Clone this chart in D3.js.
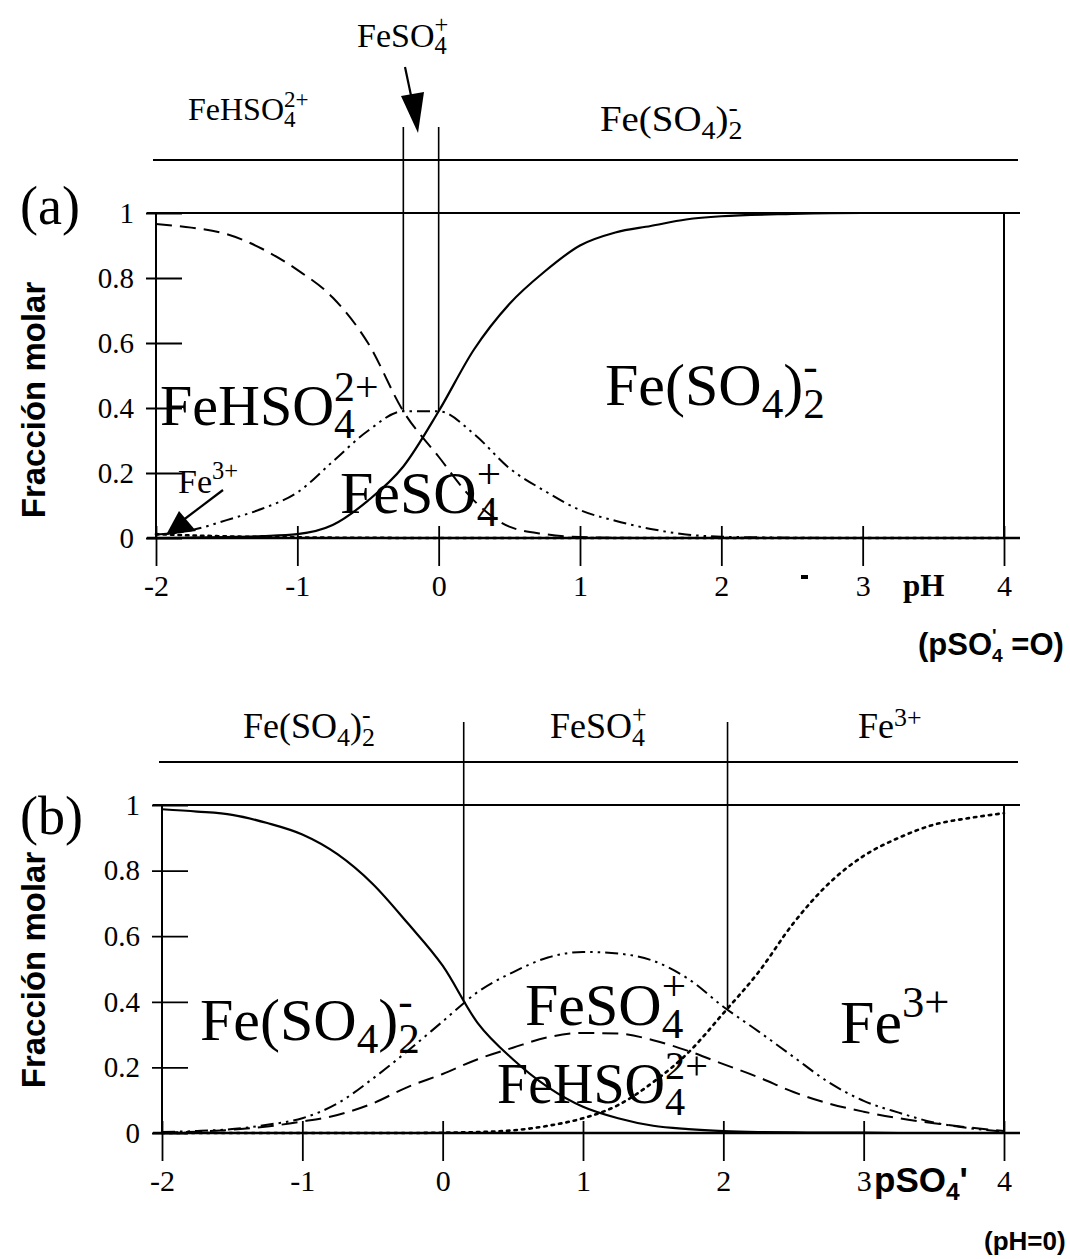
<!DOCTYPE html>
<html><head><meta charset="utf-8">
<script src="https://cdn.jsdelivr.net/npm/d3@7"></script>
<style>body{margin:0;background:#fff}</style>
</head><body><svg id="c" width="1070" height="1259"></svg>
<script>
// ---------- data: panel (a), x = pH (pSO4' = 0) ----------
const pHValues   = [-2,-1.75,-1.5,-1.25,-1,-0.75,-0.5,-0.25,0,0.25,0.5,0.75,1,1.25,1.5,1.75,2,2.5,3,3.5,4];
const aFe3       = [0.012,0.008,0.005,0.003,0.002,0.001,0.001,0,0,0,0,0,0,0,0,0,0,0,0,0,0];
const aFeHSO4    = [0.966,0.955,0.935,0.89,0.825,0.74,0.60,0.39,0.25,0.115,0.035,0.012,0.003,0.001,0,0,0,0,0,0,0];
const aFeSO4     = [0.01,0.024,0.055,0.09,0.14,0.235,0.33,0.39,0.39,0.32,0.215,0.145,0.086,0.053,0.028,0.011,0.004,0.001,0,0,0];
const aFeSO42    = [0,0.001,0.003,0.006,0.012,0.04,0.115,0.22,0.39,0.58,0.72,0.82,0.90,0.94,0.96,0.98,0.99,0.997,1,1,1];

// ---------- data: panel (b), x = pSO4' (pH = 0) ----------
const pSO4Values = [-2,-1.75,-1.5,-1.25,-1,-0.75,-0.5,-0.25,0,0.25,0.5,0.75,1,1.25,1.5,1.75,2,2.25,2.5,2.75,3,3.25,3.5,3.75,4];
const bFeSO42    = [0.987,0.98,0.97,0.945,0.91,0.85,0.76,0.64,0.51,0.335,0.225,0.14,0.08,0.045,0.022,0.012,0.006,0.003,0.002,0.001,0.001,0,0,0,0];
const bFeSO4     = [0.003,0.006,0.012,0.025,0.045,0.09,0.165,0.25,0.34,0.43,0.49,0.535,0.552,0.547,0.525,0.47,0.385,0.31,0.232,0.155,0.098,0.062,0.032,0.015,0.004];
const bFeHSO4    = [0.002,0.004,0.01,0.02,0.035,0.055,0.09,0.14,0.18,0.225,0.26,0.292,0.305,0.303,0.283,0.25,0.21,0.17,0.125,0.09,0.065,0.045,0.03,0.017,0.006];
const bFe3       = [0,0,0,0,0,0,0,0,0.001,0.003,0.008,0.022,0.045,0.085,0.155,0.245,0.365,0.49,0.64,0.76,0.845,0.90,0.94,0.96,0.975];

// ---------- ticks ----------
const xTicks = [-2,-1,0,1,2,3,4];
const xTickLabels = ["-2","-1","0","1","2","3","4"];
const yTicks = [0,0.2,0.4,0.6,0.8,1];
const yTickLabels = ["0","0.2","0.4","0.6","0.8","1"];

// predominance boundaries
const aBounds = [-0.25, 0];
const bBounds = [0.15, 2.03];

const svg = d3.select('#c');
const serif = "'Liberation Serif','Times New Roman',serif";
const sans = "'Liberation Sans',Arial,sans-serif";

const styles = {
  solid:  {dash:null, w:2.2},
  dashed: {dash:"16,8", w:2},
  dashdot:{dash:"13,5,2.5,5,2.5,5", w:2},
  dotted: {dash:"2.5,5", w:2.6}
};

function measure(txt, size, fam, wt) {
  const t = svg.append('text').attr('font-family', fam).attr('font-weight', wt).attr('font-size', size).text(txt);
  const w = t.node().getComputedTextLength();
  t.remove();
  return w;
}

// formula helper (one text element): parts = [{t:"FeSO"},{sub:"4",sup:"+"}]
function formula(g, x, y, parts, size, opts={}) {
  const fam = opts.family || serif, wt = opts.weight || 'normal';
  const sx = opts.sx || 1;
  const txt = g.append('text').attr('font-family', fam).attr('font-weight', wt).attr('font-size', size).attr('fill','#000');
  let cur = 0, total = 0, pendingDx = 0;
  const subY = size*0.22;
  parts.forEach(p => {
    if (p.t !== undefined) {
      txt.append('tspan').attr('dx', pendingDx).attr('dy', -cur).text(p.t);
      cur = 0; pendingDx = 0;
      total += measure(p.t, size, fam, wt);
    } else {
      const ss = size * (p.scale || 0.72);
      let subW = 0, supW = 0;
      if (p.sub) {
        subW = measure(p.sub, ss, fam, wt);
        txt.append('tspan').attr('dx', pendingDx).attr('dy', subY - cur).attr('font-size', ss).text(p.sub);
        cur = subY; pendingDx = 0;
      }
      if (p.sup) {
        supW = measure(p.sup, ss, fam, wt);
        const sy = -size*(p.supy || 0.42);
        txt.append('tspan').attr('dx', pendingDx - subW + (p.supdx||0)).attr('dy', sy - cur).attr('font-size', ss).text(p.sup);
        cur = sy; pendingDx = 0;
        const used = supW + (p.supdx||0);
        if (subW > used) pendingDx = subW - used;
        total += Math.max(subW, used);
      } else {
        total += subW;
      }
    }
  });
  const w = total * sx;
  const sh = opts.anchor === 'middle' ? -w/2 : opts.anchor === 'end' ? -w : 0;
  txt.attr('transform', `translate(${x+sh},${y}) scale(${sx},1)`);
  return txt;
}

const F = {
  FeHSO4: [{t:"FeHSO"},{sub:"4",sup:"2+"}],
  FeSO4:  [{t:"FeSO"},{sub:"4",sup:"+"}],
  FeSO42: [{t:"Fe(SO"},{sub:"4"},{t:")"},{sub:"2",sup:"-"}],
  Fe3:    [{t:"Fe"},{sup:"3+"}]
};

function line(g, x1, y1, x2, y2, w) {
  g.append('line').attr('x1',x1).attr('y1',y1).attr('x2',x2).attr('y2',y2)
   .attr('stroke','#000').attr('stroke-width',w||2);
}

function panel(cfg) {
  const xs = d3.scaleLinear().domain([-2,4]).range([cfg.x0, cfg.x1]);
  const ys = d3.scaleLinear().domain([0,1]).range([cfg.yBot, cfg.yTop]);
  const g = svg.append('g');

  // x axis
  const xa = d3.axisBottom(xs).tickValues(xTicks).tickSize(28).tickFormat((d,i)=>xTickLabels[i]);
  const gx = g.append('g').attr('transform', `translate(0,${ys(0)})`).call(xa);
  gx.select('.domain').remove();
  gx.selectAll('.tick line').attr('y1', -12).attr('stroke-width', 1.8);
  gx.selectAll('.tick text').attr('y', cfg.xLabY).attr('dy', 0)
    .attr('font-family', serif).attr('font-size', 30).attr('fill','#000');

  // y axis
  const ya = d3.axisLeft(ys).tickValues(yTicks).tickSize(10).tickPadding(12).tickFormat((d,i)=>yTickLabels[i]);
  const gy = g.append('g').attr('transform', `translate(${xs(-2)},0)`).call(ya);
  gy.select('.domain').remove();
  gy.selectAll('.tick line').attr('x1', 26).attr('stroke-width', 1.8);
  gy.selectAll('.tick text').attr('font-family', serif).attr('font-size', 29).attr('fill','#000');

  // frame
  line(g, xs(-2)-9, ys(0), xs(4)+16, ys(0), 2.4);
  line(g, xs(-2), ys(0), xs(-2), ys(1), 2);
  line(g, xs(-2)-9, ys(1), xs(4)+16, ys(1), 2.2);
  line(g, xs(4), ys(1), xs(4), ys(0), 2);
  // predominance band
  line(g, xs(-2)-3, cfg.bandY, xs(4)+14, cfg.bandY, 2.2);
  cfg.bounds.forEach((b,i) => line(g, xs(b), cfg.bTop, xs(b), ys(cfg.bVal[i]), 1.6));

  // curves
  const gen = d3.line().x((d,i)=>xs(cfg.xv[i])).y(d=>ys(d)).curve(d3.curveMonotoneX);
  cfg.series.forEach(s => {
    const st = styles[s.style];
    g.append('path').attr('d', gen(s.values)).attr('fill','none').attr('stroke','#000')
     .attr('stroke-width', st.w).attr('stroke-dasharray', st.dash).attr('stroke-linecap', s.style==='dotted'?'round':'butt');
  });

  // axis title y
  g.append('text').attr('transform', `translate(${cfg.yTitleX},${cfg.yTitleY}) rotate(-90)`)
   .attr('text-anchor','middle').attr('font-family', sans).attr('font-weight','bold')
   .attr('font-size', 33).text('Fracción molar');
  // panel letter
  g.append('text').attr('x', 20).attr('y', cfg.letterY).attr('font-family', serif).attr('font-size', 54).text(cfg.letter);
  return {g, xs, ys};
}

// ----- panel (a)
const A = panel({
  x0:156, x1:1004, yTop:213, yBot:538, xLabY:58, bandY:160, bTop:127,
  bounds:aBounds, bVal:[0.39,0.39], xv:pHValues,
  series:[
    {values:aFe3, style:'dotted'},
    {values:aFeHSO4, style:'dashed'},
    {values:aFeSO4, style:'dashdot'},
    {values:aFeSO42, style:'solid'}
  ],
  yTitleX:45, yTitleY:400, letter:'(a)', letterY:224
});
// top band labels
formula(A.g, 188, 120, F.FeHSO4, 32);
formula(A.g, 357, 47, F.FeSO4, 34);
formula(A.g, 600, 131, F.FeSO42, 36, {sx:1.08});
// arrow to FeSO4 band
line(A.g, 405, 67, 413, 105, 2.2);
A.g.append('path').attr('d','M401,96 L424,92 L418,133 Z').attr('fill','#000');
// inner labels
formula(A.g, 160, 425, F.FeHSO4, 58);
formula(A.g, 340, 513, F.FeSO4, 60);
formula(A.g, 605, 405, F.FeSO42, 60);
formula(A.g, 178, 493, F.Fe3, 34);
// Fe3+ arrow
line(A.g, 223, 490, 182, 521, 2.2);
A.g.append('path').attr('d','M166,535 L179,511 L196,531 Z').attr('fill','#000');
// small mark near tick 3 (as in reference)
A.g.append('rect').attr('x', 801).attr('y', 575).attr('width', 7).attr('height', 4).attr('fill','#000');
// x title
A.g.append('text').attr('x', 903).attr('y', 596).attr('font-family', serif).attr('font-weight','bold').attr('font-size', 31).text('pH');
formula(A.g, 918, 655, [{t:"(pSO"},{sub:"4",sup:"'",scale:0.62},{t:" =O)"}], 31, {family:sans, weight:'bold'});

// ----- panel (b)
const B = panel({
  x0:162, x1:1004, yTop:805, yBot:1133, xLabY:58, bandY:762, bTop:722,
  bounds:bBounds, bVal:[0.40,0.38], xv:pSO4Values,
  series:[
    {values:bFe3, style:'dotted'},
    {values:bFeHSO4, style:'dashed'},
    {values:bFeSO4, style:'dashdot'},
    {values:bFeSO42, style:'solid'}
  ],
  yTitleX:45, yTitleY:970, letter:'(b)', letterY:834
});
formula(B.g, 243, 738, F.FeSO42, 36);
formula(B.g, 550, 738, F.FeSO4, 36);
formula(B.g, 858, 738, [{t:"Fe"},{sup:"3+",supy:0.32}], 36);
formula(B.g, 200, 1040, F.FeSO42, 60);
formula(B.g, 525, 1025, F.FeSO4, 60);
formula(B.g, 497, 1103, F.FeHSO4, 56);
formula(B.g, 840, 1043, F.Fe3, 62);
formula(B.g, 874, 1192, [{t:"pSO"},{sub:"4",scale:0.7},{t:"'"}], 35, {family:sans, weight:'bold'});
B.g.append('text').attr('x', 984).attr('y', 1250).attr('font-family', sans).attr('font-weight','bold').attr('font-size', 26).text('(pH=0)');
</script>
</body></html>
